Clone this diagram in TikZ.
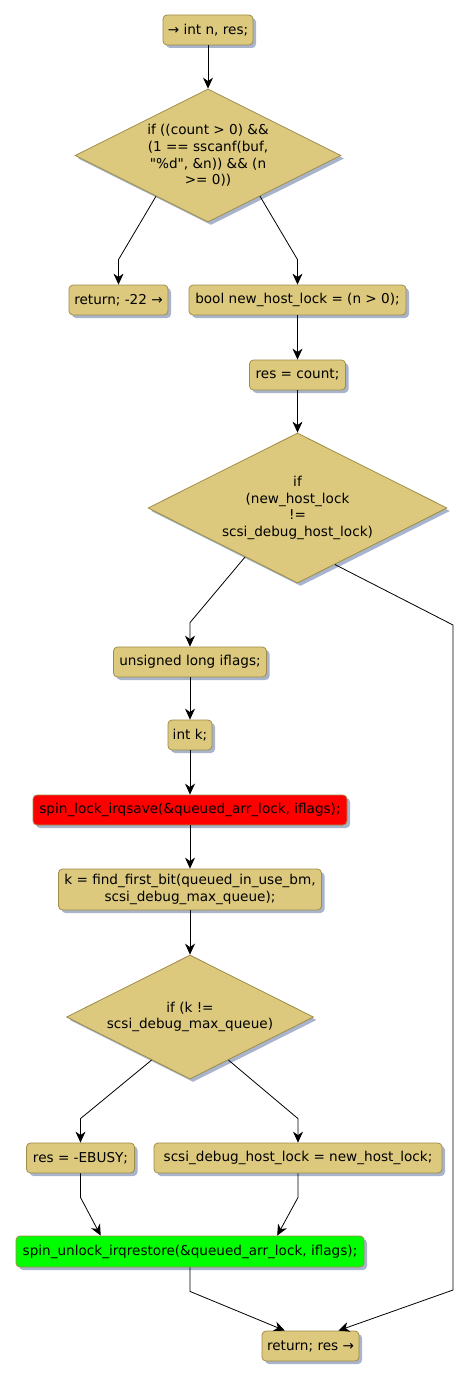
\documentclass[tikz,border=0pt]{standalone}
\usepackage{fontspec}
\setmainfont{DejaVu Sans}[Ligatures=TeXOff]
\usetikzlibrary{shapes.geometric,arrows.meta,shadows,calc}
\definecolor{boxfill}{HTML}{DCC97E}
\definecolor{boxdraw}{HTML}{A08C4A}
\definecolor{shadowc}{HTML}{A8B4CC}
\definecolor{redfill}{HTML}{FF0000}
\definecolor{greenfill}{HTML}{00FF00}
\tikzset{
  base/.style={draw=boxdraw, fill=boxfill, line width=0.8pt,
    font=\fontsize{13.6pt}{16.7pt}\selectfont, text=black,
    drop shadow={shadow xshift=3pt, shadow yshift=-3pt, fill=shadowc, opacity=1}},
  act/.style={base, rectangle, rounded corners=4pt, minimum height=30pt,
    inner xsep=4pt, inner ysep=2pt, align=center},
  dec/.style={base, diamond, aspect=2, inner sep=0pt, align=center},
  arr/.style={-{Stealth[length=11pt,width=10pt,inset=3.5pt]}, line width=0.8pt, black},
  ln/.style={line width=0.8pt, black}
}
\begin{document}
\begin{tikzpicture}[x=1pt,y=-1pt]
\useasboundingbox (0,0) rectangle (468,1380);

\node[act, minimum width=90pt] (n1) at (208,30) {→ int n, res;};
\node[dec, minimum width=266pt, minimum height=133pt] (d1) at (208,155.5)
  {if ((count > 0) \&\&\\(1 == sscanf(buf,\\"\%d", \&n)) \&\& (n\\>= 0))};
\node[act, minimum width=99pt] (r22) at (118.5,300) {return; -22 →};
\node[act, minimum width=217pt] (bnh) at (297.5,300) {bool new\_host\_lock = (n > 0);};
\node[act, minimum width=96pt] (rc) at (297.5,375) {res = count;};
\node[dec, minimum width=299pt, minimum height=150pt] (d2) at (297.5,508)
  {if\\(new\_host\_lock\\!=\\scsi\_debug\_host\_lock)};
\node[act, minimum width=153pt] (ul) at (190,662) {unsigned long iflags;};
\node[act, minimum width=44pt] (ik) at (190,735) {int k;};
\node[act, minimum width=314pt, fill=redfill] (spl) at (190,810) {spin\_lock\_irqsave(\&queued\_arr\_lock, iflags);};
\node[act, minimum width=263pt, minimum height=41pt] (kf) at (190,889.5)
  {k = find\_first\_bit(queued\_in\_use\_bm,\\scsi\_debug\_max\_queue);};
\node[dec, minimum width=247pt, minimum height=124pt] (d3) at (190,1017)
  {if (k !=\\scsi\_debug\_max\_queue)};
\node[act, minimum width=108pt] (eb) at (80.5,1158) {res = -EBUSY;};
\node[act, minimum width=288pt] (sh) at (298,1158) {scsi\_debug\_host\_lock = new\_host\_lock;};
\node[act, minimum width=348pt, minimum height=31pt, fill=greenfill] (spu) at (190,1251.5)
  {spin\_unlock\_irqrestore(\&queued\_arr\_lock, iflags);};
\node[act, minimum width=97pt] (ret) at (310.5,1346) {return; res →};

\coordinate (rt1) at (453,625);
\coordinate (rt2) at (453,1290);

\draw[arr] (n1.south) -- (d1.north);
\draw[arr] ($(d1.south)!0.39!(d1.west)$) -- ($(r22.north)+(0,-25)$) -- (r22.north);
\draw[arr] ($(d1.south)!0.39!(d1.east)$) -- ($(bnh.north)+(0,-25)$) -- (bnh.north);
\draw[arr] (bnh.south) -- (rc.north);
\draw[arr] (rc.south) -- (d2.north);
\draw[arr] ($(d2.south)!0.35!(d2.west)$) -- ($(ul.north)+(0,-24)$) -- (ul.north);
\draw[arr] ($(d2.south)!0.25!(d2.east)$) -- (rt1) -- (rt2) -- ($(ret.north)!0.57!(ret.north east)$);
\draw[arr] (ul.south) -- (ik.north);
\draw[arr] (ik.south) -- (spl.north);
\draw[arr] (spl.south) -- (kf.north);
\draw[arr] (kf.south) -- (d3.north);
\draw[arr] ($(d3.south)!0.31!(d3.west)$) -- ($(eb.north)+(0,-24)$) -- (eb.north);
\draw[arr] ($(d3.south)!0.31!(d3.east)$) -- ($(sh.north)+(0,-24)$) -- (sh.north);
\draw[arr] (eb.south) -- ($(eb.south)+(0,24)$) -- ($(spu.north west)!0.244!(spu.north east)$);
\draw[arr] (sh.south) -- ($(sh.south)+(0,24)$) -- ($(spu.north west)!0.75!(spu.north east)$);
\draw[arr] (spu.south) -- ($(spu.south)+(0,24)$) -- ($(ret.north west)!0.237!(ret.north east)$);
\end{tikzpicture}
\end{document}
